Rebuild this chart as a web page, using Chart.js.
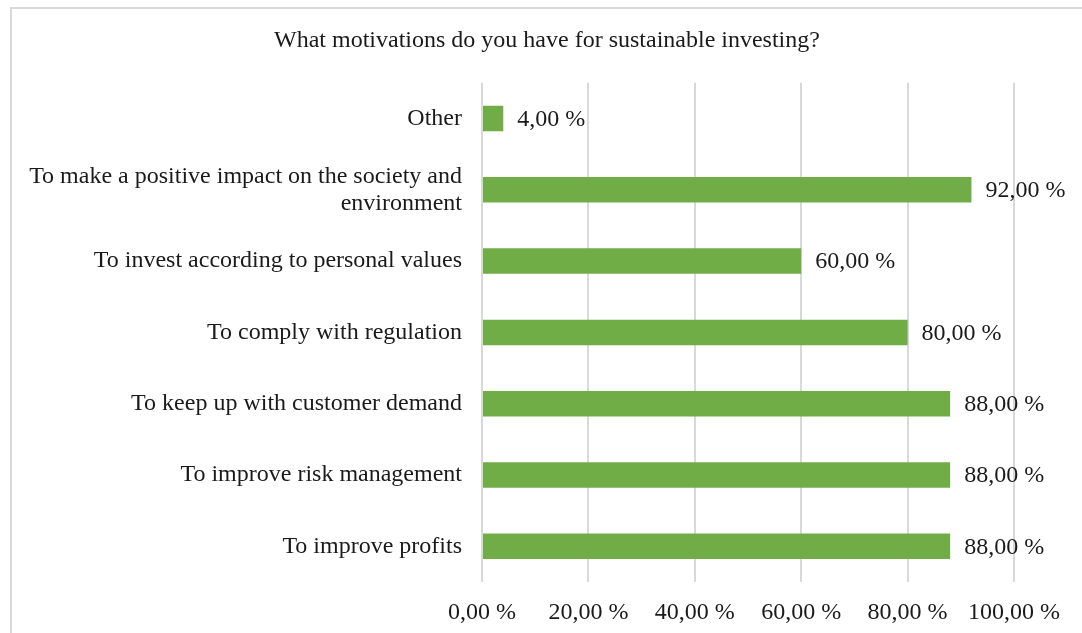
<!DOCTYPE html>
<html>
<head>
<meta charset="utf-8">
<title>Motivations for sustainable investing</title>
<script src="https://cdn.jsdelivr.net/npm/chart.js@4"></script>
<style>
  html, body { margin: 0; padding: 0; background: #fff; overflow: hidden; }
  body { width: 1082px; height: 633px; position: relative; }
  .frame {
    position: absolute; left: 10px; top: 7px;
    width: 1100px; height: 700px;
    border: 2px solid #d9d9d9; box-sizing: border-box;
  }
  .plot { position: absolute; left: 0; top: 0; width: 1070px; height: 624px; }
</style>
</head>
<body>
<div class="frame">
  <div class="plot"><canvas id="motivationChart"></canvas></div>
</div>
<script>
// survey answers, top row first
const categories = [
  'Other',
  ['To make a positive impact on the society and', 'environment'],
  'To invest according to personal values',
  'To comply with regulation',
  'To keep up with customer demand',
  'To improve risk management',
  'To improve profits'
];
const shares = [4, 92, 60, 80, 88, 88, 88];
const xTicks = [0, 20, 40, 60, 80, 100];

const FONT = 'Liberation Serif, Times New Roman, serif';
const TEXT = '#1a1a1a';
const SIZE = 24;

// 88 -> "88,00 %"
function pct(v) {
  return v.toFixed(2).replace('.', ',') + ' %';
}

// value labels right of each bar
const barValueLabels = {
  id: 'barValueLabels',
  afterDatasetsDraw(chart) {
    const ctx = chart.ctx;
    const meta = chart.getDatasetMeta(0);
    ctx.save();
    ctx.font = SIZE + 'px ' + FONT;
    ctx.fillStyle = TEXT;
    ctx.textAlign = 'left';
    ctx.textBaseline = 'middle';
    meta.data.forEach((bar, i) => {
      ctx.fillText(pct(shares[i]), bar.x + 14, bar.y + 1);
    });
    ctx.restore();
  }
};

new Chart(document.getElementById('motivationChart'), {
  type: 'bar',
  data: {
    labels: categories,
    datasets: [{
      data: shares,
      backgroundColor: '#70ad47',
      borderWidth: 0,
      categoryPercentage: 1,
      barPercentage: 0.357
    }]
  },
  options: {
    indexAxis: 'y',
    responsive: true,
    maintainAspectRatio: false,
    animation: false,
    layout: { padding: { left: 0, right: 0, top: 0, bottom: 0 } },
    plugins: {
      legend: { display: false },
      tooltip: { enabled: false },
      title: {
        display: true,
        text: 'What motivations do you have for sustainable investing?',
        color: TEXT,
        font: { family: FONT, size: SIZE, weight: 'normal', lineHeight: 1.2 },
        padding: { top: 17, bottom: 28 }
      }
    },
    scales: {
      x: {
        min: 0,
        max: 100,
        afterBuildTicks(scale) {
          scale.ticks = xTicks.map(v => ({ value: v }));
        },
        afterFit(scale) { scale.height = 51; },
        grid: { color: '#d9d9d9', lineWidth: 2, drawTicks: false },
        border: { display: false },
        ticks: {
          color: TEXT,
          padding: 16,
          font: { family: FONT, size: SIZE, lineHeight: 1.2 },
          callback: v => pct(v)
        }
      },
      y: {
        grid: { display: false, drawTicks: false },
        border: { display: false },
        afterFit(scale) { scale.width = 470; },
        ticks: {
          color: TEXT,
          padding: 20,
          font: { family: FONT, size: SIZE, lineHeight: 1.13 }
        }
      },
      // empty right-hand margin so the title centres over the whole frame
      pad: {
        axis: 'y',
        position: 'right',
        display: true,
        grid: { display: false, drawTicks: false },
        border: { display: false },
        ticks: { display: false },
        afterFit(scale) { scale.width = 68; }
      }
    }
  },
  plugins: [barValueLabels]
});
</script>
</body>
</html>
